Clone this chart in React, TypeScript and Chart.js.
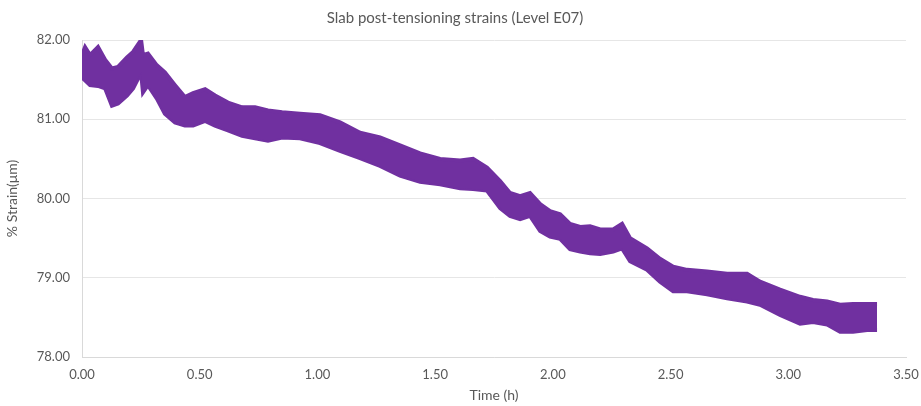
import React, { useEffect, useRef } from "react";
import { Chart, registerables } from "chart.js";

Chart.register(...registerables);

// Time in hours at which the band edges were read
const timeHours = [
  0.0, 0.013, 0.034, 0.068, 0.098, 0.127, 0.153, 0.191, 0.217, 0.251, 0.259, 0.28,
  0.318, 0.352, 0.395, 0.437, 0.472, 0.523, 0.565, 0.62, 0.68, 0.735, 0.79, 0.85,
  0.926, 1.011, 1.096, 1.181, 1.266, 1.351, 1.436, 1.521, 1.606, 1.661, 1.72, 1.776,
  1.818, 1.861, 1.903, 1.946, 1.988, 2.031, 2.073, 2.116, 2.158, 2.201, 2.256, 2.294,
  2.328, 2.4, 2.455, 2.511, 2.57, 2.655, 2.74, 2.825, 2.88, 2.965, 3.05, 3.105,
  3.165, 3.22, 3.275, 3.335, 3.377,
];

// Upper edge of the strain band (%)
const strainUpper = [
  81.81, 81.91, 81.81, 81.91, 81.75, 81.64, 81.66, 81.78, 81.85, 82.0, 81.81, 81.83,
  81.68, 81.59, 81.43, 81.28, 81.33, 81.38, 81.3, 81.21, 81.15, 81.15, 81.11, 81.09,
  81.07, 81.05, 80.96, 80.83, 80.77, 80.67, 80.57, 80.5, 80.48, 80.5, 80.39, 80.22,
  80.07, 80.03, 80.07, 79.93, 79.84, 79.8, 79.68, 79.64, 79.65, 79.61, 79.61, 79.68,
  79.5, 79.37, 79.24, 79.14, 79.1, 79.08, 79.05, 79.05, 78.95, 78.85, 78.76, 78.72,
  78.7, 78.66, 78.67, 78.67, 78.67,
];

// Lower edge of the strain band (%)
const strainLower = [
  81.53, 81.49, 81.43, 81.42, 81.39, 81.17, 81.2, 81.3, 81.39, 81.59, 81.34, 81.43,
  81.26, 81.07, 80.96, 80.92, 80.92, 80.98, 80.92, 80.86, 80.79, 80.76, 80.73, 80.77,
  80.76, 80.7, 80.6, 80.51, 80.41, 80.29, 80.21, 80.18, 80.13, 80.12, 80.1, 79.88,
  79.78, 79.74, 79.78, 79.59, 79.52, 79.49, 79.36, 79.33, 79.31, 79.3, 79.33, 79.37,
  79.21, 79.1, 78.95, 78.83, 78.83, 78.79, 78.74, 78.7, 78.66, 78.53, 78.42, 78.44,
  78.41, 78.32, 78.32, 78.34, 78.34,
];

const yTicks = [78, 79, 80, 81, 82];
const xTicks = [0, 0.5, 1, 1.5, 2, 2.5, 3, 3.5];

const PURPLE = "rgb(112,48,160)";
const TEXT = "#595959";
const FONT = "Lato, 'Open Sans', sans-serif";

export default function App() {
  const ref = useRef<HTMLCanvasElement | null>(null);

  useEffect(() => {
    if (!ref.current) return;
    const upper = timeHours.map((t, i) => ({ x: t, y: strainUpper[i] }));
    const lower = timeHours.map((t, i) => ({ x: t, y: strainLower[i] }));
    const chart = new Chart(ref.current, {
      type: "line",
      data: {
        datasets: [
          {
            label: "upper",
            data: upper,
            borderColor: PURPLE,
            backgroundColor: PURPLE,
            borderWidth: 4,
            pointRadius: 0,
            fill: "+1",
            tension: 0,
          },
          {
            label: "lower",
            data: lower,
            borderColor: PURPLE,
            backgroundColor: PURPLE,
            borderWidth: 4,
            pointRadius: 0,
            fill: false,
            tension: 0,
          },
        ],
      },
      options: {
        animation: false,
        responsive: false,
        maintainAspectRatio: false,
        layout: { padding: { left: 4, right: 15, top: 0, bottom: 2 } },
        plugins: {
          legend: { display: false },
          tooltip: { enabled: false },
          title: {
            display: true,
            text: "Slab post-tensioning strains (Level E07)",
            color: TEXT,
            font: { family: FONT, size: 15, weight: "normal" },
            padding: { top: 9, bottom: 13 },
          },
        },
        scales: {
          x: {
            type: "linear",
            min: 0,
            max: 3.5,
            afterBuildTicks: (s: any) => {
              s.ticks = xTicks.map((v) => ({ value: v }));
            },
            afterFit: (s: any) => {
              s.height = 47;
              s.paddingRight = 0;
              s.paddingLeft = 0;
            },
            ticks: {
              color: TEXT,
              font: { family: FONT, size: 13 },
              padding: 10,
              maxRotation: 0,
              callback: (v: any) => Number(v).toFixed(2),
            },
            grid: { display: false, drawTicks: false },
            border: { display: true, color: "#d9d9d9", width: 1 },
            title: {
              display: true,
              text: "Time (h)",
              color: TEXT,
              font: { family: FONT, size: 14 },
              padding: { top: 2, bottom: 0 },
            },
          },
          y: {
            type: "linear",
            min: 78,
            max: 82,
            afterBuildTicks: (s: any) => {
              s.ticks = yTicks.map((v) => ({ value: v }));
            },
            afterFit: (s: any) => {
              s.width = 78;
            },
            ticks: {
              color: TEXT,
              font: { family: FONT, size: 13 },
              padding: 12,
              callback: (v: any) => Number(v).toFixed(2),
            },
            grid: { color: "#e6e6e6", drawTicks: false, lineWidth: 1 },
            border: { display: true, color: "#d9d9d9", width: 1 },
            title: {
              display: true,
              text: "% Strain(μm)",
              color: TEXT,
              font: { family: FONT, size: 14 },
              padding: { top: 0, bottom: 4 },
            },
          },
        },
      },
    });
    return () => chart.destroy();
  }, []);

  return (
    <div style={{ position: "fixed", left: 0, top: 0, width: 921, height: 406, background: "#fff" }}>
      <canvas ref={ref} width={921} height={406} style={{ width: 921, height: 406 }} />
    </div>
  );
}
